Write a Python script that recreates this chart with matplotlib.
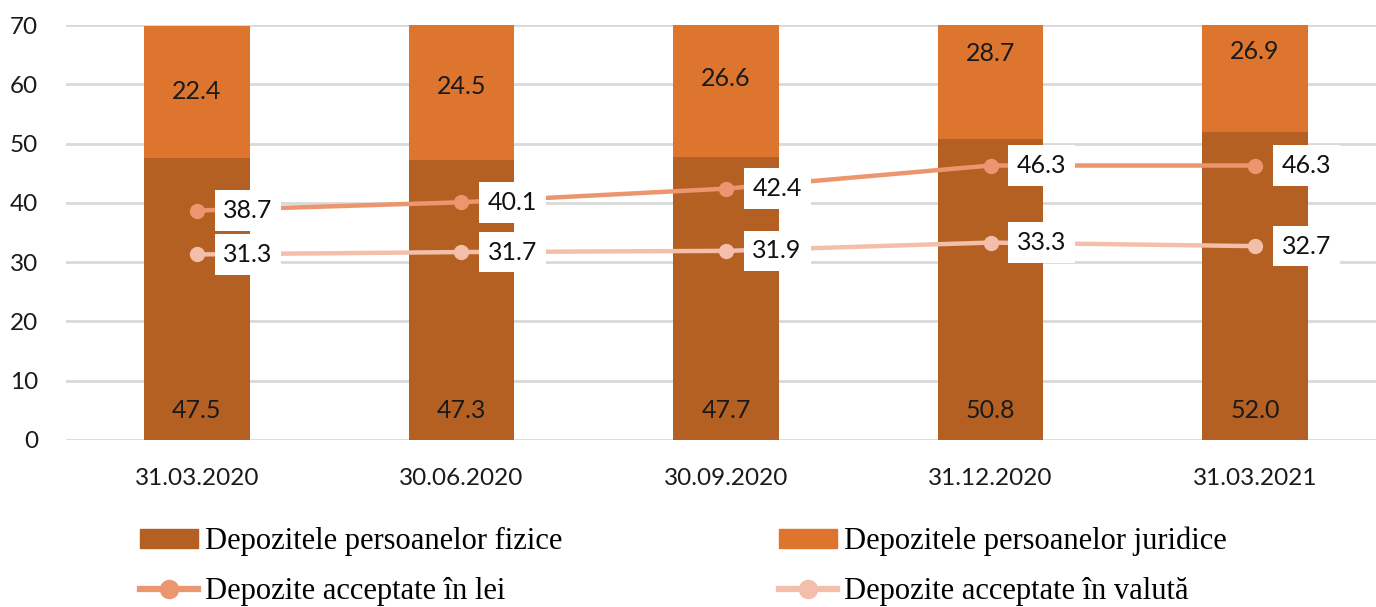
import matplotlib
matplotlib.use("Agg")
import matplotlib.pyplot as plt
from matplotlib.patches import Patch
from matplotlib.lines import Line2D

categories = ["31.03.2020", "30.06.2020", "30.09.2020", "31.12.2020", "31.03.2021"]
fizice = [47.5, 47.3, 47.7, 50.8, 52.0]
juridice = [22.4, 24.5, 26.6, 28.7, 26.9]
lei = [38.7, 40.1, 42.4, 46.3, 46.3]
valuta = [31.3, 31.7, 31.9, 33.3, 32.7]
yticks = [0, 10, 20, 30, 40, 50, 60, 70]

c_fiz = "#B56023"
c_jur = "#DE752E"
c_lei = "#EB966E"
c_val = "#F3BEAA"

num_font = "Lato"
leg_font = "Liberation Serif"

fig = plt.figure(figsize=(13.76, 6.07), dpi=100)
W, H = 1376, 607
ax = fig.add_axes([66 / W, (H - 440) / H, (1376 - 66) / W, (440 - 25) / H])

x = list(range(len(categories)))
ax.set_xlim(-0.495, 4.457)
ax.set_ylim(0, 70)

ax.bar(x, fizice, width=0.4, color=c_fiz, zorder=2)
ax.bar(x, juridice, width=0.4, bottom=fizice, color=c_jur, zorder=2)

for i in x:
    ax.text(i, 5, f"{fizice[i]:.1f}", ha="center", va="center",
            fontsize=18, family=num_font, color="#1a1a1a", zorder=3)
    ax.text(i, fizice[i] + juridice[i] / 2, f"{juridice[i]:.1f}", ha="center",
            va="center", fontsize=18, family=num_font, color="#1a1a1a", zorder=3)

ax.plot(x, lei, color=c_lei, lw=3.2, marker="o", ms=10, zorder=4)
ax.plot(x, valuta, color=c_val, lw=3.2, marker="o", ms=10, zorder=4)

for series in (lei, valuta):
    for i in x:
        ax.annotate(f"{series[i]:.1f}", (i, series[i]), xytext=(19, 0),
                    textcoords="offset points", ha="left", va="center",
                    fontsize=18, family=num_font, color="#111111", zorder=5,
                    bbox=dict(boxstyle="square,pad=0.35", fc="white", ec="none"))

ax.set_yticks(yticks)
ax.set_xticks(x)
ax.set_xticklabels(categories)
ax.yaxis.grid(True, color="#D9D9D9", lw=2, zorder=0)
ax.set_axisbelow(True)
for s in ax.spines.values():
    s.set_visible(False)
ax.tick_params(axis="both", length=0, labelsize=17.5)
ax.tick_params(axis="x", pad=20)
ax.tick_params(axis="y", pad=20)
for lab in ax.get_xticklabels() + ax.get_yticklabels():
    lab.set_family(num_font)
    lab.set_color("#1a1a1a")

handles = [
    Patch(color=c_fiz, label="Depozitele persoanelor fizice"),
    Line2D([], [], color=c_lei, lw=4.5, marker="o", ms=13, label="Depozite acceptate în lei"),
    Patch(color=c_jur, label="Depozitele persoanelor juridice"),
    Line2D([], [], color=c_val, lw=4.5, marker="o", ms=13, label="Depozite acceptate în valută"),
]
fig.legend(handles=handles, ncol=2, loc="upper left", bbox_to_anchor=(140 / W, (H - 527) / H),
           frameon=False, prop={"family": leg_font, "size": 22},
           handlelength=1.9, handleheight=0.55, handletextpad=0.22, columnspacing=7.1,
           labelspacing=0.66, borderaxespad=0, borderpad=0)

fig.savefig("out.png", dpi=100)
